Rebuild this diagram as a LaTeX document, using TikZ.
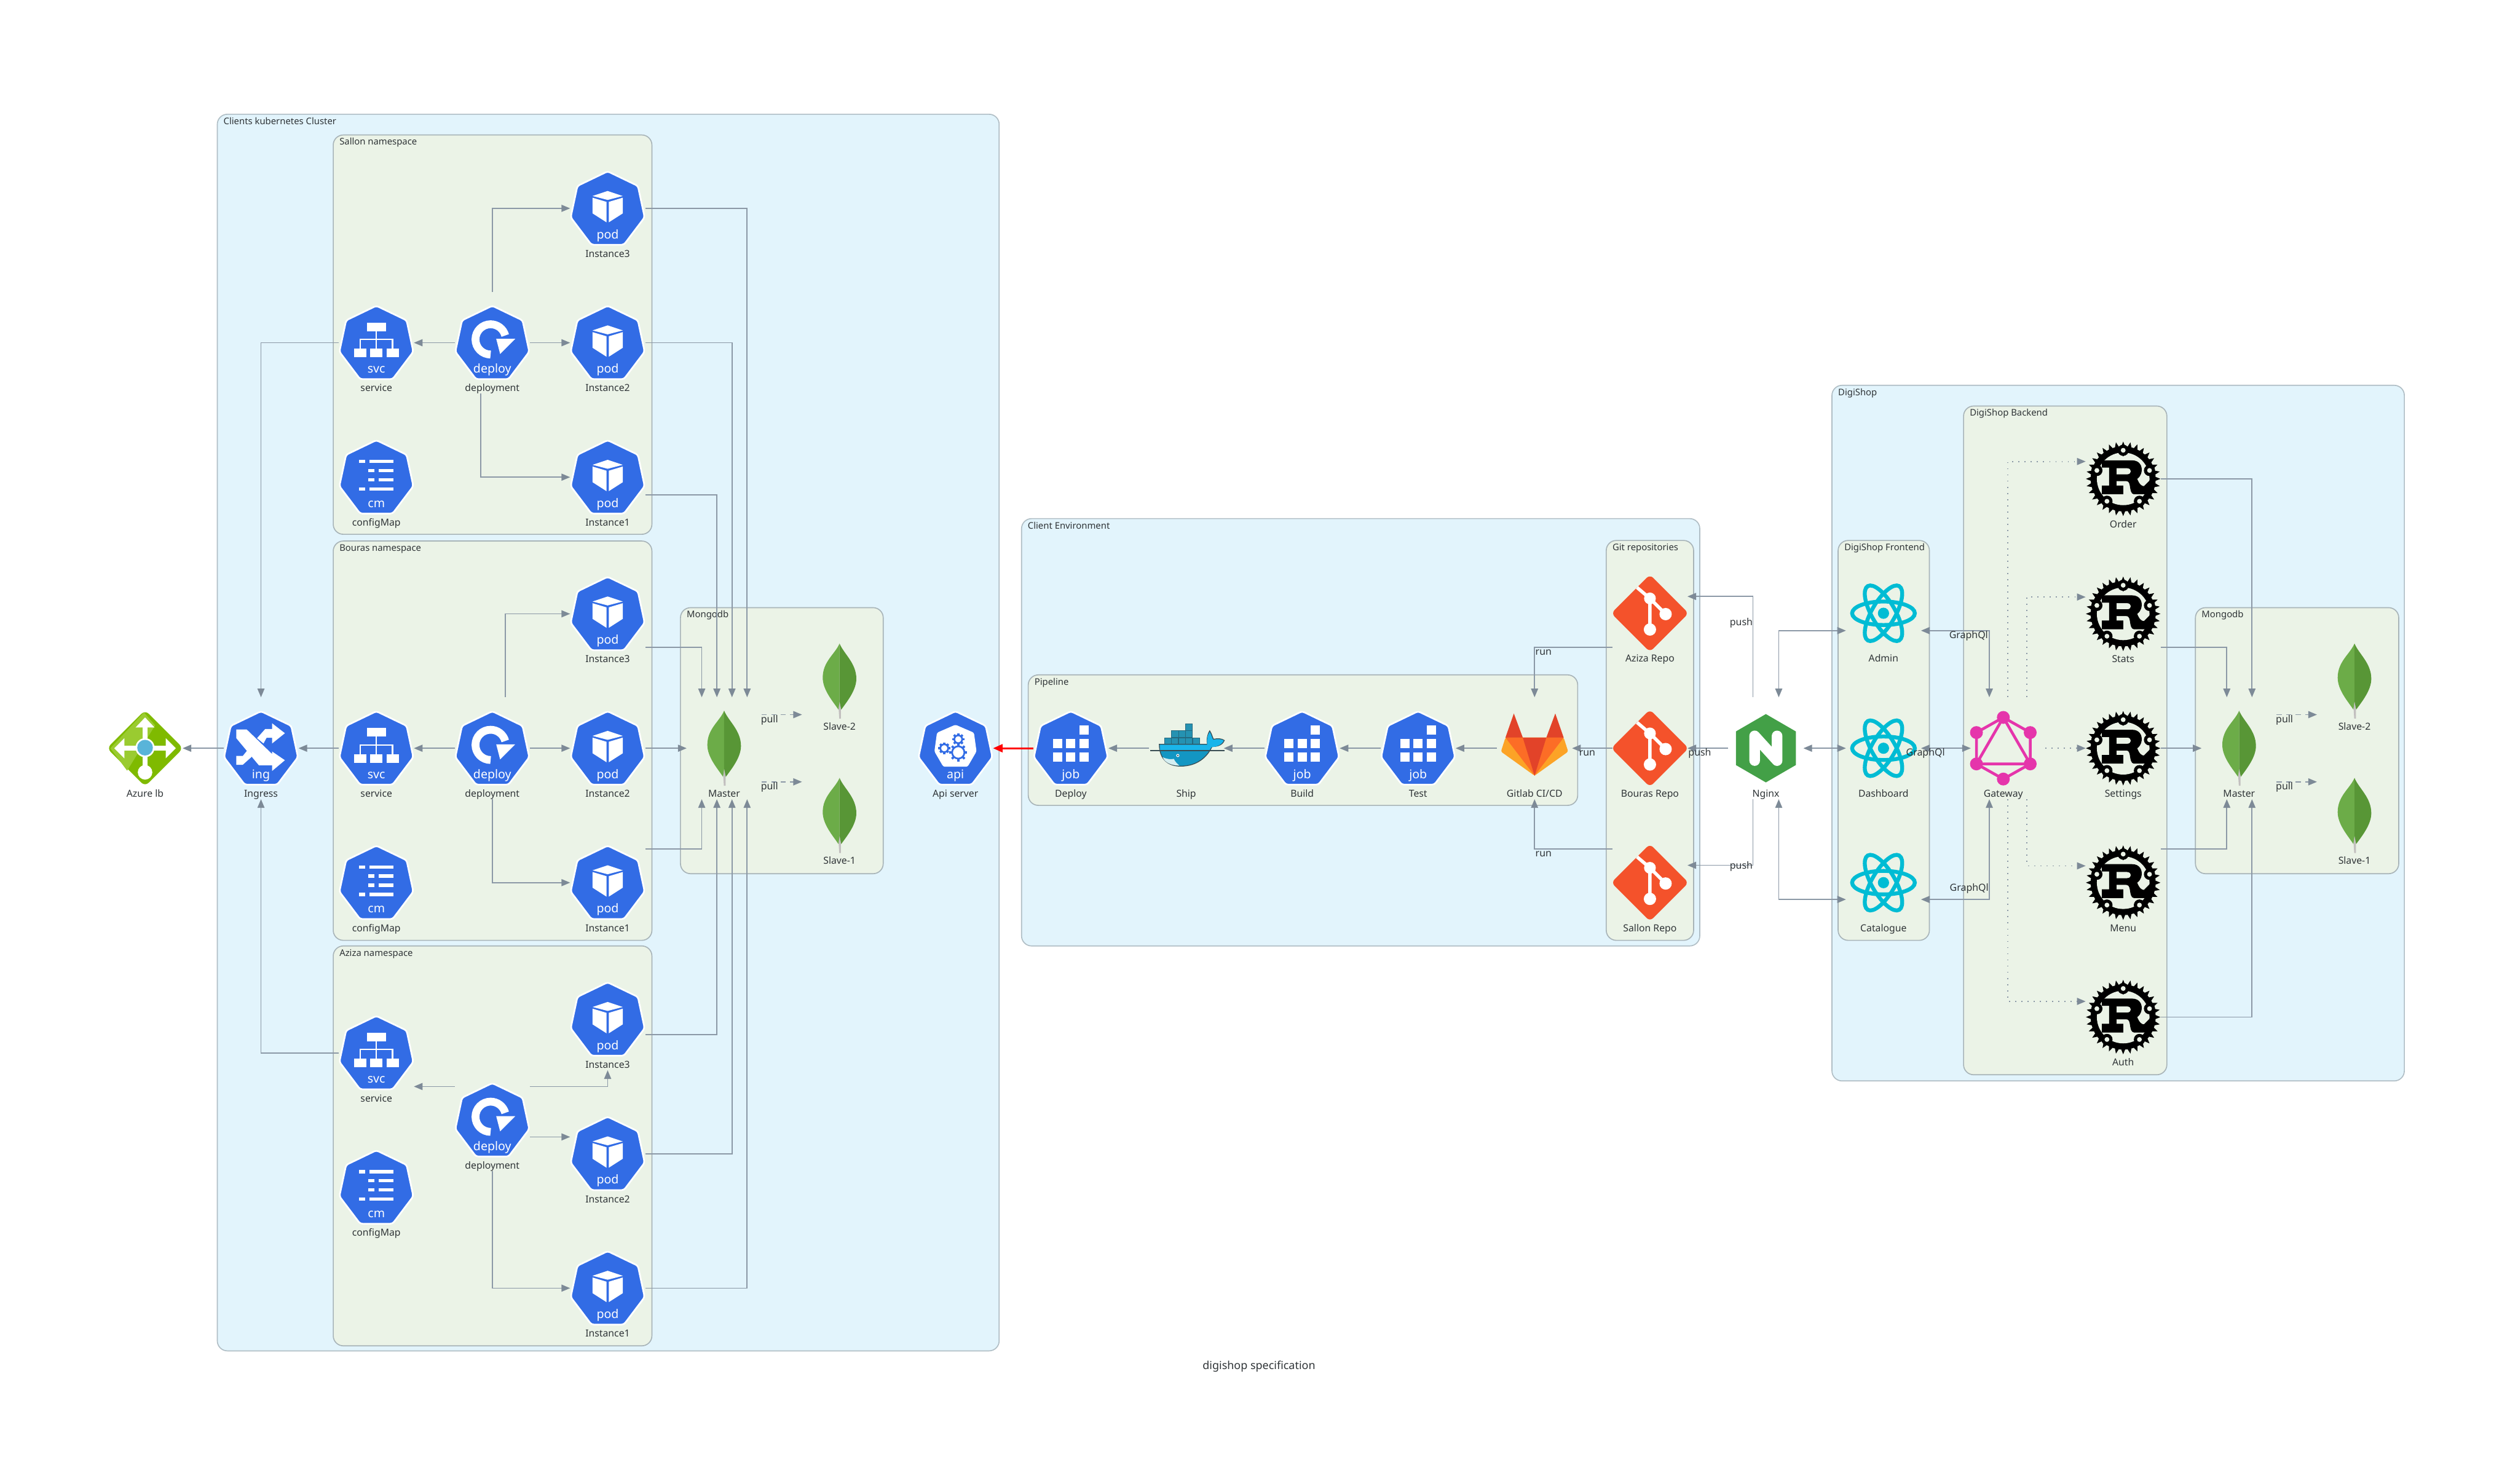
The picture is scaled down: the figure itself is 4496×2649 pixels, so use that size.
\documentclass[tikz,border=0pt]{standalone}
\usepackage{fontspec}
\setmainfont{Noto Sans}
\usetikzlibrary{arrows.meta}
\definecolor{kblue}{HTML}{326CE5}
\definecolor{clbg}{HTML}{E2F4FC}
\definecolor{subbg}{HTML}{EBF3E7}
\definecolor{boxln}{HTML}{B0BEC5}
\definecolor{sublin}{HTML}{A8B4B8}
\definecolor{ln}{HTML}{8B98A6}
\definecolor{hd}{HTML}{7D8A97}
\definecolor{tx}{HTML}{2F3437}
\definecolor{gitred}{HTML}{F4522B}
\definecolor{reactc}{HTML}{00BCD4}
\definecolor{gqlc}{HTML}{E535AB}
\tikzset{
  >={Triangle[length=15.5pt,width=12.5pt,color=hd]},
  clusterbox/.style={draw=boxln,fill=clbg,line width=1.8pt,rounded corners=18pt,inner sep=0pt,outer sep=0pt},
  subbox/.style={draw=sublin,fill=subbg,line width=1.8pt,rounded corners=18pt,inner sep=0pt,outer sep=0pt},
  boxtitle/.style={anchor=base west,inner sep=0pt,text=tx,font=\fontsize{16.3}{19}\selectfont},
  iconbox/.style={inner sep=0pt,outer sep=0pt,minimum width=134pt,minimum height=182pt},
  iconlabel/.style={anchor=base,inner sep=0pt,text=tx,font=\fontsize{17.3}{20}\selectfont},
  edgelabel/.style={anchor=base,inner sep=0pt,text=tx,font=\fontsize{17.5}{20}\selectfont},
  ktext/.style={anchor=base,inner sep=0pt,text=white,font=\fontsize{21.5}{24}\selectfont},
  conn/.style={draw=ln,line width=1.9pt},
  dashconn/.style={conn,dash pattern=on 9pt off 8pt},
  dotconn/.style={conn,dash pattern=on 2pt off 9pt},
  redconn/.style={draw=red,line width=3.4pt,-{Triangle[length=17pt,width=14pt]}},
  pics/pod/.style={code={\khept
    \fill[white] (0,-31)--(27,-22)--(0,-15)--(-27,-22)--cycle;
    \fill[white] (-27,-19)--(-2,-11.5)--(-2,25)--(-27,9)--cycle;
    \fill[white] (27,-19)--(2,-11.5)--(2,25)--(27,9)--cycle;
    \ktxt{pod}}},
  pics/svc/.style={code={\khept
    \fill[white] (-17,-36) rectangle (17,-20.5);
    \draw[white,line width=2.6pt] (0,-21)--(0,11) (-29,11)--(-29,-6)--(29,-6)--(29,11);
    \fill[white] (-40,10.5) rectangle (-18,26);
    \fill[white] (-11,10.5) rectangle (11,26);
    \fill[white] (18,10.5) rectangle (40,26);
    \ktxt{svc}}},
  pics/depl/.style={code={\khept
    \draw[white,line width=14pt] (-3,21) arc[start angle=90,end angle=345,radius=27];
    \fill[white] (7,-7)--(41,-7)--(14,20)--cycle;
    \ktxt{deploy}}},
  pics/cmap/.style={code={\khept
    \fill[white] (-31,-31) rectangle (-20,-25);
    \fill[white] (-12,-31) rectangle (31,-25);
    \fill[white] (-15,-15) rectangle (-4,-9);
    \fill[white] (4,-15) rectangle (31,-9);
    \fill[white] (-15,1.5) rectangle (-4,7.5);
    \fill[white] (4,1.5) rectangle (31,7.5);
    \fill[white] (-31,18) rectangle (-20,24);
    \fill[white] (-12,18) rectangle (31,24);
    \ktxt{cm}}},
  pics/ingr/.style={code={\khept
    \fill[white] (-44,-33.5)--(-25.5,-33.5)--(19.8,10.3)--(19.8,5.8)--(42.7,21.4)--(19.8,40.6)--(19.8,30.4)--(-3.8,30.4)--(-44,-17.9)--cycle;
    \fill[white] (-44,13.8)--(-32.5,13.8)--(-25,4.5)--(-16,14.7)--(-32.5,29.5)--(-44,29.5)--cycle;
    \fill[white] (19.8,-44.6)--(42.7,-26.8)--(19.8,-8.5)--(19.8,-18.8)--(10,-18.8)--(4.5,-8.5)--(-7,-18)--(7.6,-34.4)--(19.8,-34.4)--cycle;
    \ktxt{ing}}},
  pics/job/.style={code={\khept
    \foreach \cx in {-32,-8.3,15.4}{
      \fill[white] (\cx,-16.7) rectangle ++(16.6,16.6);
      \fill[white] (\cx,7.3) rectangle ++(16.6,16.6);}
    \fill[white] (15.4,-41) rectangle ++(16.6,16.6);
    \ktxt{job}}},
  pics/api/.style={code={\khept
    \fill[white,rounded corners=3pt] (0,-42)--(33,-27.7)--(37.6,5.7)--(21.7,33)--(-21.7,33)--(-37.6,5.7)--(-33,-27.7)--cycle;
    \kgear{5}{-16}{7}{11}
    \kgear{-20}{0}{7}{10.5}
    \kgear{5}{7.5}{11}{16}
    \ktxt{api}}},
  pics/azurelb/.style={code={
    \fill[fill={rgb,255:red,127;green,186;blue,0},rounded corners=9pt] (0,-68)--(68,0)--(0,68)--(-68,0)--cycle;
    \fill[fill={rgb,255:red,154;green,203;blue,48}] (-2,-64)--(18,-41)--(-32,40)--(-62,0)--cycle;
    \draw[white,line width=9pt] (-45,0)--(45,0) (0,-45)--(0,35);
    \fill[white] (0,-55)--(17,-37)--(-17,-37)--cycle;
    \fill[white] (-55,0)--(-37,-18)--(-37,18)--cycle;
    \fill[white] (55,0)--(37,-18)--(37,18)--cycle;
    \fill[white] (0,43) circle[radius=13];
    \fill[white] (0,-1) circle[radius=17];
    \fill[fill={rgb,255:red,89;green,180;blue,217}] (0,-1) circle[radius=14];}},
  pics/leaf/.style={code={
    \fill[fill={rgb,255:red,194;green,191;blue,191}] (-2.5,35)--(2.5,35)--(2.5,67)--(-0.5,67)--cycle;
    \fill[fill={rgb,255:red,108;green,172;blue,72}] (0,-67) .. controls (-8,-48) and (-30,-35) .. (-30,-6) .. controls (-30,16) and (-12,36) .. (-2,51) -- (0,36) -- cycle;
    \fill[fill={rgb,255:red,88;green,150;blue,54}] (0,-67) .. controls (8,-48) and (30,-32) .. (30,-4) .. controls (30,16) and (14,36) .. (3,51) -- (0,36) -- cycle;}},
  pics/docker/.style={code={
    \foreach \cx/\cy in {-39/-18,-26.4/-18,-13.8/-18,-1.2/-18,11.4/-18,-26/-31,-13.6/-31,-1.2/-31,-1.2/-43.5}{
      \filldraw[draw={rgb,255:red,36;green,104;blue,127},fill={rgb,255:red,37;green,146;blue,178},line width=1pt] (\cx,\cy) rectangle ++(12.4,11.6);}
    \filldraw[draw={rgb,255:red,57;green,77;blue,84},fill={rgb,255:red,19;green,150;blue,195},line width=1.4pt] (-48,-7) -- (38,-7) .. controls (36,-14) and (38,-25) .. (42,-31) .. controls (46,-25) and (47,-18) .. (49,-16) .. controls (56,-18) and (64,-17) .. (68,-14) .. controls (64,-4) and (52,-3) .. (46,-3) .. controls (38,15) and (20,32) .. (-10,32) .. controls (-32,32) and (-48,20) .. (-48,-7) -- cycle;
    \fill[fill={rgb,255:red,26;green,181;blue,234}] (-47,-6) -- (37.5,-6) .. controls (36,-14) and (38,-24) .. (42,-29) .. controls (45,-24) and (46,-17) .. (48,-15) .. controls (55,-17) and (63,-16) .. (67,-14) .. controls (63,-5) and (52,-2) .. (45,-2) -- (41,4) -- (-47,4) -- cycle;
    \draw[draw={rgb,255:red,57;green,77;blue,84},line width=1.6pt] (-64,4)--(68,4);
    \fill[fill={rgb,255:red,212;green,238;blue,241}] (-42,16) .. controls (-34,20) and (-26,20) .. (-22,19) .. controls (-20,24) and (-16,28) .. (-12,31) .. controls (-26,31) and (-38,26) .. (-42,16) -- cycle;
    \fill[white] (-15,13) circle[radius=2.8];
    \fill[fill={rgb,255:red,57;green,77;blue,84}] (-15,13) circle[radius=1.5];}},
  pics/gitlab/.style={code={
    \fill[fill={rgb,255:red,226;green,67;blue,41}] (-37,-62)--(-52,-19)--(-21,-19)--cycle;
    \fill[fill={rgb,255:red,226;green,67;blue,41}] (37,-62)--(52,-19)--(21,-19)--cycle;
    \fill[fill={rgb,255:red,252;green,163;blue,38},rounded corners=3pt] (-52,-19)--(-60,6)--(0,49)--(60,6)--(52,-19)--cycle;
    \fill[fill={rgb,255:red,252;green,109;blue,38}] (-52,-19)--(21,-19)--(0,49)--cycle;
    \fill[fill={rgb,255:red,252;green,109;blue,38}] (52,-19)--(-21,-19)--(0,49)--cycle;
    \fill[fill={rgb,255:red,226;green,67;blue,41}] (-21,-19)--(21,-19)--(0,49)--cycle;}},
  pics/gitrepo/.style={code={
    \fill[gitred,rounded corners=8pt] (0,-69)--(69,0)--(0,69)--(-69,0)--cycle;
    \draw[white,line width=6pt] (-23,-46)--(0,-26.5)--(0,29) (0,-26.5)--(28,1.5);
    \fill[white] (0,-26.5) circle[radius=10.5];
    \fill[white] (0,29) circle[radius=11];
    \fill[white] (28,1.5) circle[radius=11];}},
  pics/nginx/.style={code={
    \fill[fill={rgb,255:red,67;green,160;blue,71}] (0,-61)--(53.5,-30)--(53.5,30)--(0,61)--(-53.5,30)--(-53.5,-30)--cycle;
    \draw[white,line width=19pt,line cap=round,line join=round] (-20,22)--(-20,-22)--(20,22)--(20,-22);}},
  pics/react/.style={code={
    \draw[reactc,line width=7pt] (0,0) circle[x radius=56,y radius=21];
    \draw[reactc,line width=7pt] (0,0) circle[x radius=56,y radius=21,rotate=60];
    \draw[reactc,line width=7pt] (0,0) circle[x radius=56,y radius=21,rotate=120];
    \fill[reactc] (0,0) circle[radius=10];}},
  pics/gql/.style={code={
    \draw[gqlc,line width=5pt] (0,-55)--(48,-28)--(48,28)--(0,55)--(-48,28)--(-48,-28)--cycle;
    \draw[gqlc,line width=5pt] (0,-55)--(48,28)--(-48,28)--cycle;
    \foreach \gx/\gy in {0/-55,48/-28,48/28,0/55,-48/28,-48/-28}{\fill[gqlc] (\gx,\gy) circle[radius=11.5];}}},
  pics/rustc/.style={code={
    \foreach \ra in {0,11.25,...,349}{\fill[black] (\ra-3.9:57)--(\ra:66.5)--(\ra+3.9:57)--cycle;}
    \fill[black] (0,0) circle[radius=58];
    \fill[subbg] (0,0) circle[radius=47];
    \foreach \bx/\by/\ba in {0/-51/-90,47/-15/-18,29/40/54,-29/40/126,-47/-15/198}{
      \fill[black] (\bx,\by) circle[radius=10];
      \fill[black] (\ba-14:56)--(\ba:40)--(\ba+14:56)--cycle;
      \fill[subbg] (\bx,\by) circle[radius=4.3];}
    \fill[black,even odd rule] (-38,-33)--(16,-33) .. controls (30,-33) and (34,-22) .. (33,-14) .. controls (32,-6) and (28,-2) .. (25,0) .. controls (29,10) and (33,13) .. (37,13) -- (47,3) -- (54,10) -- (46,27.5) -- (19,27.5) .. controls (14,27) and (13,20) .. (12,13) .. controls (11,6) and (9,4) .. (5,4) -- (-12,4) -- (-12,12) -- (0,12) -- (0,27.5) -- (-38,27.5) -- (-38,12) -- (-25,12) -- (-25,-20) -- (-38,-20) -- cycle
      (-12,-19) -- (7,-19) .. controls (16,-19) and (16,-8) .. (7,-8) -- (-12,-8) -- cycle;
    }},
}
\newcommand\khept{\filldraw[draw=white,fill=kblue,line width=3pt,rounded corners=4pt] (0,-66)--(54,-40)--(66,16)--(29,65)--(-29,65)--(-66,16)--(-54,-40)--cycle;}
\newcommand\ktxt[1]{\node[ktext] (kt) at (0,54) {#1};}
\newcommand\kgear[4]{%
  \foreach \ga in {0,45,...,315}{\draw[kblue,line width=4pt] (#1,#2)++(\ga:#3)--++(\ga:#4-#3);}
  \filldraw[draw=kblue,fill=white,line width=3pt] (#1,#2) circle[radius=#3];}
\newcommand\ico[5]{%
  \node[iconbox] (#1) at (#2,#3) {};
  \pic at (#2,#3) {#4};
  \node[iconlabel] (#1-l) at (#2,#3+87) {#5};}
\newcommand\mybox[7]{%
  \node[#2,anchor=north west,minimum width=#5pt-#3pt,minimum height=#6pt-#4pt] (#1) at (#3,#4) {};
  \node[boxtitle] (#1-t) at (#3+11,#4+18) {#7};}
\newcommand\elab[4]{\node[edgelabel] (#1) at (#2,#3) {#4};}
\begin{document}
\begin{tikzpicture}[x=1pt,y=-1pt]
\fill[white] (0,0) rectangle (4496,2649);
\useasboundingbox (0,0) rectangle (4496,2649);
% clusters
\mybox{cl}{clusterbox}{388}{204}{1784}{2412}{Clients kubernetes Cluster}
\mybox{sns}{subbox}{595}{241}{1164}{954}{Sallon namespace}
\mybox{bns}{subbox}{595}{966}{1164}{1679}{Bouras namespace}
\mybox{ans}{subbox}{595}{1689}{1164}{2403}{Aziza namespace}
\mybox{mdb}{subbox}{1215}{1085}{1577}{1560}{Mongodb}
\mybox{env}{clusterbox}{1824}{926}{3035}{1689}{Client Environment}
\mybox{pip}{subbox}{1836}{1205}{2817}{1438}{Pipeline}
\mybox{grp}{subbox}{2868}{965}{3024}{1679}{Git repositories}
\mybox{dg}{clusterbox}{3271}{688}{4293}{1930}{DigiShop}
\mybox{fe}{subbox}{3282}{965}{3445}{1679}{DigiShop Frontend}
\mybox{be}{subbox}{3506}{725}{3869}{1919}{DigiShop Backend}
\mybox{mdc}{subbox}{3920}{1085}{4283}{1560}{Mongodb}
% icons
\ico{az}{259}{1336}{azurelb}{Azure lb}
\ico{ing}{466}{1336}{ingr}{Ingress}
\ico{ssvc}{672}{612}{svc}{service}
\ico{sdep}{879}{612}{depl}{deployment}
\ico{scm}{672}{852}{cmap}{configMap}
\ico{sal3}{1085}{372}{pod}{Instance3}
\ico{sal2}{1085}{612}{pod}{Instance2}
\ico{sal1}{1085}{852}{pod}{Instance1}
\ico{bsvc}{672}{1336}{svc}{service}
\ico{bdep}{879}{1336}{depl}{deployment}
\ico{bcm}{672}{1576}{cmap}{configMap}
\ico{bou3}{1085}{1096}{pod}{Instance3}
\ico{bou2}{1085}{1336}{pod}{Instance2}
\ico{bou1}{1085}{1576}{pod}{Instance1}
\ico{asvc}{672}{1880}{svc}{service}
\ico{adep}{879}{2000}{depl}{deployment}
\ico{acm}{672}{2120}{cmap}{configMap}
\ico{azi3}{1085}{1820}{pod}{Instance3}
\ico{azi2}{1085}{2060}{pod}{Instance2}
\ico{azi1}{1085}{2300}{pod}{Instance1}
\ico{ma}{1293}{1336}{leaf}{Master}
\ico{sla}{1499}{1216}{leaf}{Slave-2}
\ico{slb}{1499}{1456}{leaf}{Slave-1}
\ico{api}{1706}{1336}{api}{Api server}
\ico{jd}{1912}{1336}{job}{Deploy}
\ico{shp}{2118}{1336}{docker}{Ship}
\ico{jb}{2325}{1336}{job}{Build}
\ico{jt}{2532}{1336}{job}{Test}
\ico{gl}{2740}{1336}{gitlab}{Gitlab CI/CD}
\ico{ar}{2946}{1095}{gitrepo}{Aziza Repo}
\ico{br}{2946}{1336}{gitrepo}{Bouras Repo}
\ico{sr}{2946}{1576}{gitrepo}{Sallon Repo}
\ico{ngx}{3153}{1336}{nginx}{Nginx}
\ico{adm}{3363}{1095}{react}{Admin}
\ico{dsh}{3363}{1336}{react}{Dashboard}
\ico{cat}{3363}{1576}{react}{Catalogue}
\ico{gw}{3577}{1336}{gql}{Gateway}
\ico{ord}{3791}{855}{rustc}{Order}
\ico{sta}{3791}{1096}{rustc}{Stats}
\ico{set}{3791}{1336}{rustc}{Settings}
\ico{men}{3791}{1576}{rustc}{Menu}
\ico{aut}{3791}{1816}{rustc}{Auth}
\ico{mb}{3998}{1336}{leaf}{Master}
\ico{slc}{4204}{1216}{leaf}{Slave-2}
\ico{sld}{4204}{1456}{leaf}{Slave-1}
% connectors: Sallon
\draw[conn,->] (sdep.west)--(ssvc.east);
\draw[conn,->] (sdep.east)--(sal2.west);
\draw[conn,->] (sdep.north) |- (sal3.west);
\draw[conn,->] ([xshift=-21pt]sdep.south) |- (sal1.west);
\draw[conn,->] (ssvc.west) -| (ing.north);
\draw[conn,->] (sal3.east) -| ([xshift=41pt]ma.north);
\draw[conn,->] (sal2.east) -| ([xshift=14pt]ma.north);
\draw[conn,->] ([yshift=-32pt]sal1.east) -| ([xshift=-13pt]ma.north);
% Bouras
\draw[conn,->] (bdep.west)--(bsvc.east);
\draw[conn,->] (bdep.east)--(bou2.west);
\draw[conn,->] ([xshift=23pt]bdep.north) |- (bou3.west);
\draw[conn,->] (bdep.south) |- (bou1.west);
\draw[conn,->] (bsvc.west)--(ing.east);
\draw[conn,->] ([yshift=-60pt]bou3.east) -| ([xshift=-40pt]ma.north);
\draw[conn,->] (bou2.east)--(ma.west);
\draw[conn,->] ([yshift=60pt]bou1.east) -| ([xshift=-40pt]ma.south);
% Aziza
\draw[conn,->] ([yshift=60pt]adep.west)--([yshift=-60pt]asvc.east);
\draw[conn,->] ([yshift=60pt]adep.east) -| (azi3.south);
\draw[conn,->] ([yshift=-30pt]adep.east)--([yshift=30pt]azi2.west);
\draw[conn,->] (adep.south) |- (azi1.west);
\draw[conn,->] (asvc.west) -| (ing.south);
\draw[conn,->] ([yshift=-27pt]azi3.east) -| ([xshift=-13pt]ma.south);
\draw[conn,->] (azi2.east) -| ([xshift=14pt]ma.south);
\draw[conn,->] (azi1.east) -| ([xshift=41pt]ma.south);
% ingress, mongodb
\draw[conn,->] (ing.west)--(az.east);
\draw[dashconn,->] ([yshift=60pt]ma.east)--([yshift=-60pt]sla.west);
\draw[dashconn,->] ([yshift=-60pt]ma.east)--([yshift=60pt]slb.west);
\elab{pa}{1374}{1290}{pull}
\elab{pb}{1374}{1410}{pull}
% pipeline
\draw[redconn] (jd.west)--(api.east);
\draw[conn,->] (shp.west)--(jd.east);
\draw[conn,->] (jb.west)--(shp.east);
\draw[conn,->] (jt.west)--(jb.east);
\draw[conn,->] (gl.west)--(jt.east);
\draw[conn,->] ([yshift=-61pt]ar.west) -| (gl.north);
\draw[conn,->] (br.west)--(gl.east);
\draw[conn,->] ([yshift=60pt]sr.west) -| (gl.south);
\elab{ra}{2756}{1170}{run}
\elab{rb}{2834}{1350}{run}
\elab{rc}{2756}{1530}{run}
% nginx
\draw[conn,->] ([xshift=-23pt]ngx.north) |- ([yshift=30pt]ar.east);
\draw[conn,->] (ngx.west)--(br.east);
\draw[conn,->] ([xshift=-23pt]ngx.south) |- ([yshift=31pt]sr.east);
\elab{pua}{3109}{1117}{push}
\elab{pub}{3035}{1350}{push}
\elab{puc}{3109}{1552}{push}
\draw[conn,<->] ([xshift=23pt]ngx.north) |- ([yshift=-31pt]adm.west);
\draw[conn,<->] (ngx.east)--(dsh.west);
\draw[conn,<->] ([xshift=23pt]ngx.south) |- ([yshift=-30pt]cat.west);
% gateway
\draw[conn,<->] ([xshift=-25pt]gw.north) |- ([yshift=-31pt]adm.east);
\draw[conn,<->] ([xshift=9pt]gw.west)--(dsh.east);
\draw[conn,<->] ([xshift=-25pt]gw.south) |- ([yshift=-30pt]cat.east);
\elab{ga}{3515}{1140}{GraphQl}
\elab{gb}{3438}{1350}{GraphQl}
\elab{gc}{3516}{1591}{GraphQl}
\draw[dotconn,->] ([xshift=8pt]gw.north) |- ([yshift=31pt]ord.west);
\draw[dotconn,->] ([xshift=42pt]gw.north) |- ([yshift=30pt]sta.west);
\draw[dotconn,->] ([xshift=8pt]gw.east)--(set.west);
\draw[dotconn,->] ([xshift=42pt]gw.south) |- ([yshift=30pt]men.west);
\draw[dotconn,->] ([xshift=8pt]gw.south) |- ([yshift=28pt]aut.west);
% rust to mongo
\draw[conn,->] (ord.east) -| ([xshift=23pt]mb.north);
\draw[conn,->] ([yshift=-60pt]sta.east) -| ([xshift=-22pt]mb.north);
\draw[conn,->] (set.east)--(mb.west);
\draw[conn,->] ([yshift=60pt]men.east) -| ([xshift=-22pt]mb.south);
\draw[conn,->] (aut.east) -| ([xshift=23pt]mb.south);
\draw[dashconn,->] ([yshift=60pt]mb.east)--([yshift=-60pt]slc.west);
\draw[dashconn,->] ([yshift=-60pt]mb.east)--([yshift=60pt]sld.west);
\elab{pc}{4079}{1290}{pull}
\elab{pd}{4079}{1410}{pull}
\node[iconlabel,font=\fontsize{19.7}{22}\selectfont] (ttl) at (2248,2445) {digishop specification};
\end{tikzpicture}
\end{document}
